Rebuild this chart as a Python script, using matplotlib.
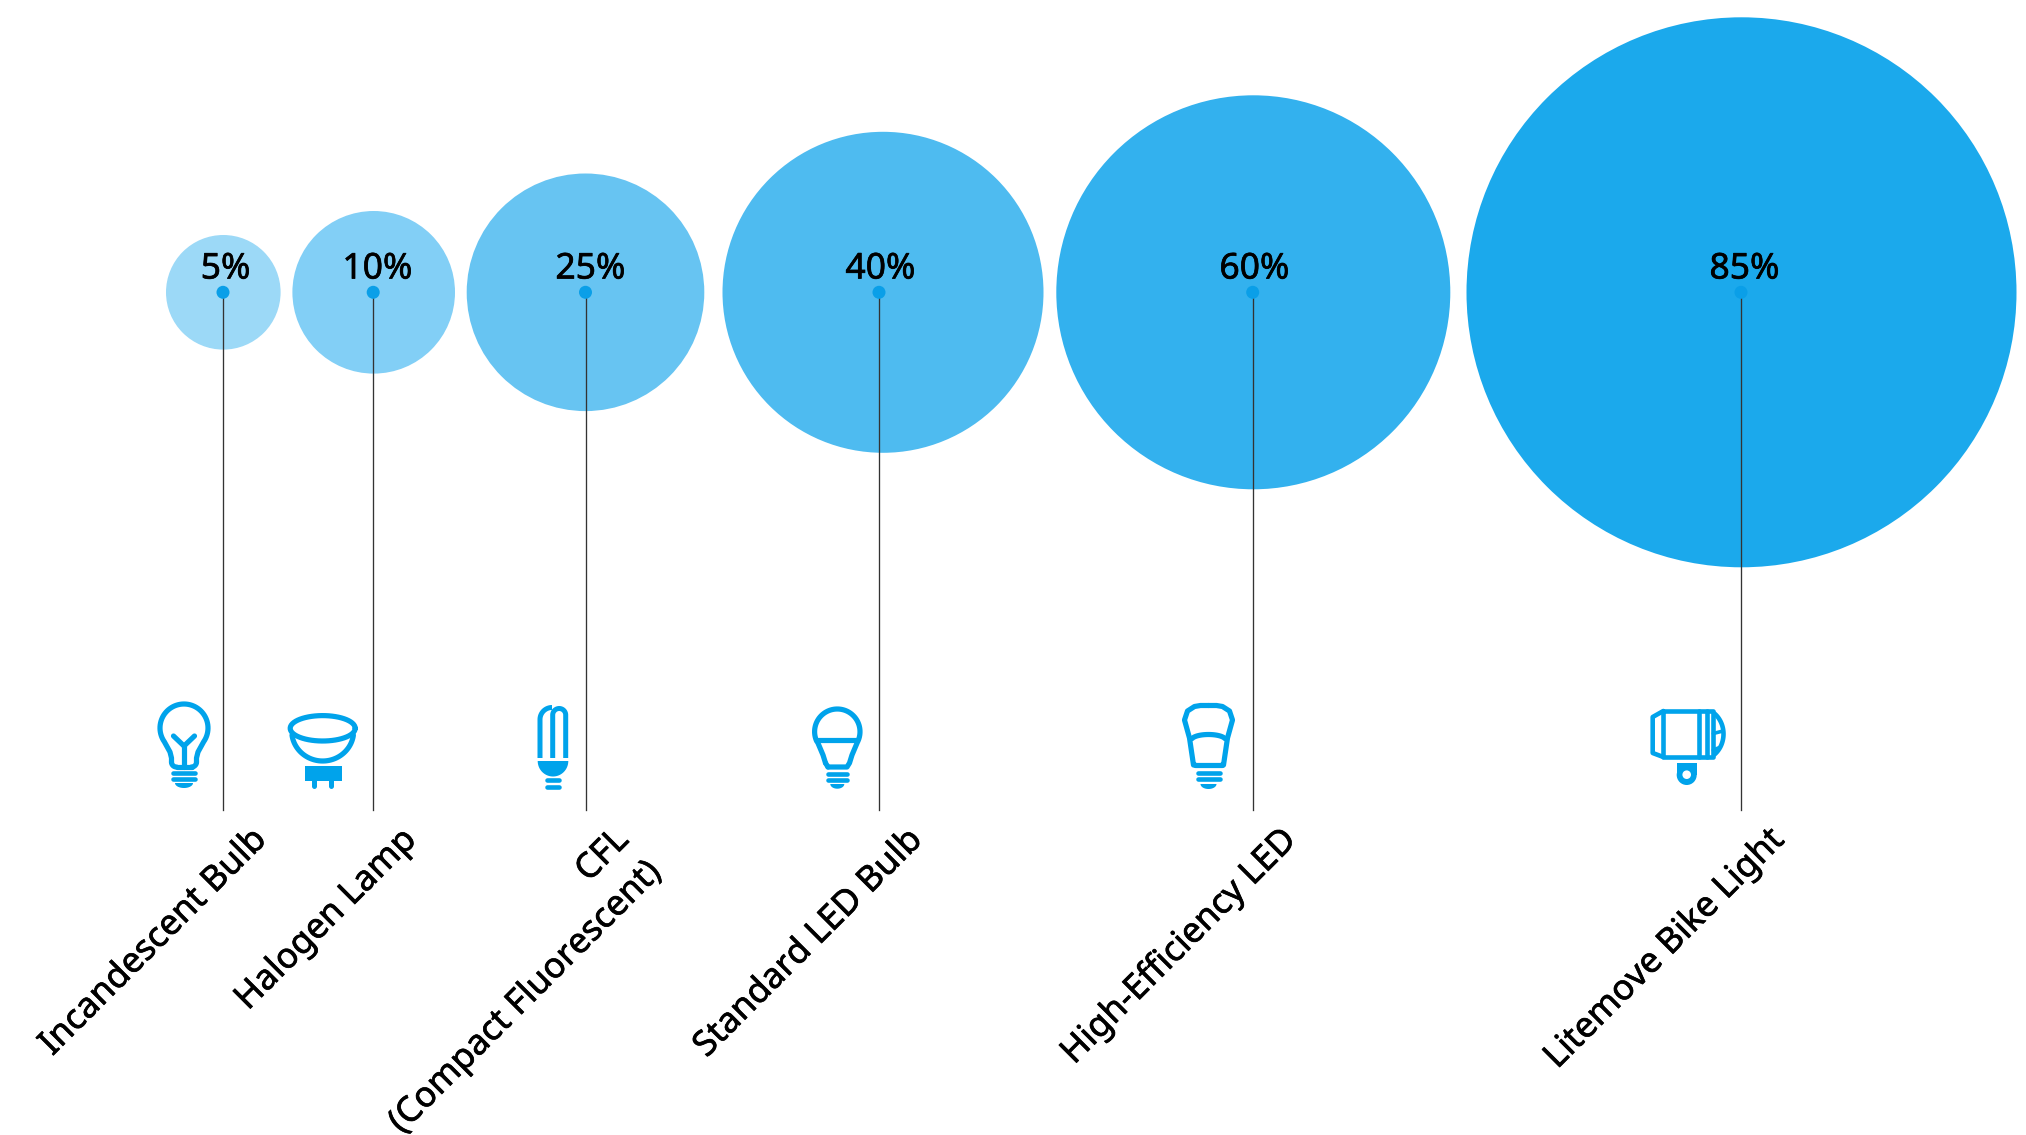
import numpy as np
import matplotlib
matplotlib.use("Agg")
import matplotlib.pyplot as plt
import matplotlib.patheffects as pe
from matplotlib.patches import Circle, Rectangle

plt.rcParams['font.family'] = ['Noto Sans', 'DejaVu Sans']

# chart values
categories = ['Incandescent Bulb', 'Halogen Lamp', 'CFL\n(Compact Fluorescent)',
              'Standard LED Bulb', 'High-Efficiency LED', 'Litemove Bike Light']
values = [5, 10, 25, 40, 60, 85]
radius = [57.3, 81.3, 118.8, 160.5, 197, 275]
circle_x = [223.3, 373.7, 585.5, 883, 1253.3, 1741.5]
stem_x = [223, 373.2, 585.5, 879, 1252.7, 1741]
label_x = [225.6, 377.5, 590.5, 880.5, 1254.5, 1744.5]
colors = ['#9CD9F7', '#82CFF6', '#67C4F2', '#4EBBF0', '#33B1EE', '#1BA9EC']

ICON = '#00A3EB'
CENTER_Y = 292.3
STEM_END = 810

fig = plt.figure(figsize=(20.26, 11.35), dpi=100)
ax = fig.add_axes([0, 0, 1, 1])
ax.set_xlim(0, 2026)
ax.set_ylim(1135, 0)
ax.axis('off')


def stroke(xs, ys, lw=5.2, cap='round'):
    ax.plot(xs, ys, color=ICON, lw=lw * 0.72, solid_capstyle=cap,
            solid_joinstyle='round', zorder=5)


def arc(cx, cy, rx, ry, a0, a1, n=60):
    t = np.radians(np.linspace(a0, a1, n))
    return cx + rx * np.cos(t), cy + ry * np.sin(t)


def screw(cx, w, y1, y2, tip_y, tip_h, tip_w):
    stroke([cx - w, cx + w], [y1, y1], 4.6)
    stroke([cx - w, cx + w], [y2, y2], 4.6)
    x, y = arc(cx, tip_y, tip_w, tip_h, 0, 180)
    ax.fill(x, y, color=ICON, lw=0, zorder=5)


def icon_incandescent():
    x, y = arc(184, 728, 24, 24, 145, 395)
    xs = [171.5, 171.5, 170] + list(x) + [198, 196.5, 196.5]
    ys = [762, 758, 752] + list(y) + [752, 758, 762]
    stroke(xs, ys)
    bx, by = arc(176.5, 762, 5, 5, 90, 180)
    stroke(bx, by)
    bx, by = arc(191.5, 762, 5, 5, 0, 90)
    stroke(bx, by)
    stroke([176.5, 191.5], [767, 767])
    stroke([184, 184], [746, 767])
    stroke([173.5, 184, 194.5], [736, 746, 736])
    screw(184, 11, 772.5, 778.5, 783, 5, 9)


def icon_halogen():
    x, y = arc(322.7, 728.3, 32.5, 12.7, 0, 360)
    stroke(x, y)
    x, y = arc(322.7, 731, 31, 30, 8, 172)
    stroke(x, y)
    ax.add_patch(Rectangle((305, 766), 36.7, 14.5, color=ICON, lw=0, zorder=5))
    stroke([314, 314], [780, 786], 5)
    stroke([331.3, 331.3], [780, 786], 5)


def icon_cfl():
    x, y = arc(552, 719.5, 12, 12, 180, 270)
    stroke([540] + list(x), [758] + list(y), 5, 'butt')
    x, y = arc(559.2, 715, 6.5, 6.5, 180, 360)
    stroke([552.7] + list(x) + [565.7], [758] + list(y) + [758], 5, 'butt')
    x, y = arc(553, 761, 15.3, 15.5, 0, 180)
    ax.fill(x, y, color=ICON, lw=0, zorder=5)
    stroke([547, 559], [780, 780], 4.6)
    stroke([547, 559], [786.7, 786.7], 4.6)


def icon_led():
    x, y = arc(837.3, 731.7, 22.7, 22.7, 155, 385)
    xs = [825.5, 823, 817.5] + list(x) + [857.5, 852, 849.5, 847, 828]
    ys = [763, 755, 742] + list(y) + [742, 755, 763, 767, 767]
    stroke(xs, ys)
    stroke([825.5, 828], [763, 767])
    stroke([817.7, 857], [740, 740])
    screw(837.3, 9.5, 773.7, 779.5, 784, 4.7, 7)


def icon_efficient():
    c = 1208.5
    xs = np.array([13.5, 15, 19, 24, 21, 14, 8, 0])
    ys = np.array([765, 765, 738, 720, 711, 706.5, 705.5, 705.5])
    stroke(c - xs, ys)
    stroke(c + xs, ys)
    stroke([c - 13.5, c + 13.5], [765, 765])
    x, y = arc(c, 740, 17, 5.5, 195, 345)
    stroke(x, y)
    screw(c, 11, 772.5, 779, 784, 5, 8)


def icon_bike():
    stroke([1663.3, 1713.3, 1713.3, 1663.3, 1663.3],
           [711, 711, 757, 757, 711], 4.6)
    stroke([1663.3, 1652.7, 1652.7, 1663.3], [711, 717, 753, 757], 4.6)
    stroke([1698.5, 1698.5], [711, 757], 4.6)
    stroke([1706.5, 1706.5], [711, 757], 4.6)
    x, y = arc(1700, 734, 23.5, 26, -52, 52)
    stroke(x, y, 4.6)
    stroke([1713.3, 1723], [733.5, 731], 3.6)
    stroke([1713.3, 1719.5], [750, 747.5], 3.6)
    ax.add_patch(Rectangle((1676.7, 763), 20, 12, color=ICON, lw=0, zorder=5))
    ax.add_patch(Circle((1686.7, 775), 10, color=ICON, lw=0, zorder=5))
    ax.add_patch(Circle((1686.7, 774.7), 4.3, color='white', lw=0, zorder=6))


heavier = [pe.withStroke(linewidth=0.5, foreground='black')]

for i in range(len(values)):
    ax.add_patch(Circle((circle_x[i], CENTER_Y), radius[i], color=colors[i], lw=0, zorder=1))
    ax.plot([stem_x[i], stem_x[i]], [CENTER_Y, STEM_END], color='#333333', lw=0.95, zorder=2)
    ax.add_patch(Circle((stem_x[i], CENTER_Y), 6.5, color='#0A9FE8', lw=0, zorder=3))
    ax.text(label_x[i], 278.5, f'{values[i]}%', ha='center', va='baseline',
            fontsize=25.5, color='black', zorder=4, path_effects=heavier)
    ax.text(stem_x[i] + 26, 823, categories[i], rotation=45, rotation_mode='anchor',
            ha='right', va='top', ma='right', fontsize=25.2, color='black', zorder=4,
            linespacing=1.45, path_effects=heavier)

icon_incandescent()
icon_halogen()
icon_cfl()
icon_led()
icon_efficient()
icon_bike()

fig.savefig('out.png', dpi=100, facecolor='white')
